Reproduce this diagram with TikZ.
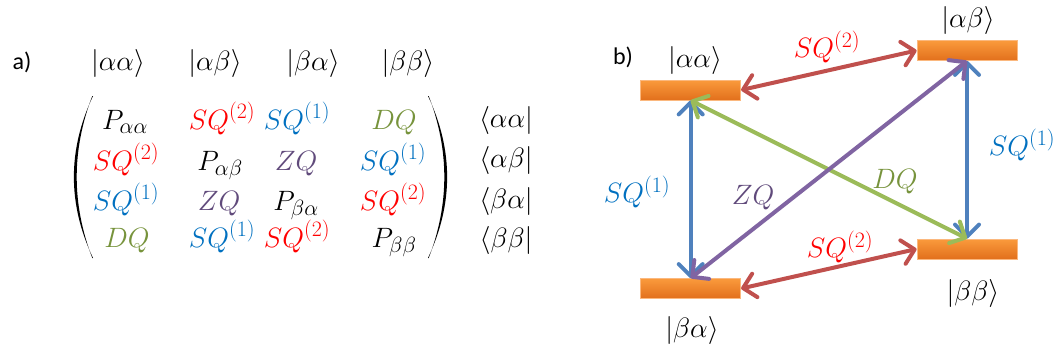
\RequirePackage{fix-cm}
\documentclass[tikz,border=0pt]{standalone}
\usepackage{amsmath}
\usepackage{fontspec}
\setmainfont{Carlito}
\DeclareMathSizes{28}{28}{22}{16}
\usetikzlibrary{arrows.meta}
\definecolor{tred}{HTML}{FF0000}
\definecolor{tblue}{HTML}{0070C0}
\definecolor{tgreen}{HTML}{77933C}
\definecolor{tpurple}{HTML}{604A7B}
\definecolor{ared}{HTML}{C0504D}
\definecolor{ablue}{HTML}{4F81BD}
\definecolor{agreen}{HTML}{9BBB59}
\definecolor{apurple}{HTML}{8064A2}
\definecolor{otop}{HTML}{FA9A3C}
\definecolor{obot}{HTML}{E2701C}
\definecolor{oedge}{HTML}{FBB87E}
\begin{document}
\begin{tikzpicture}[x=1pt,y=-1pt,
  every node/.style={font=\fontsize{28}{33}\selectfont, inner sep=0pt},
  ent/.style={anchor=base},
  level/.style={minimum width=100pt, minimum height=20pt, draw=oedge, line width=0.8pt, top color=otop, bottom color=obot},
  conn/.style={line width=4pt, {Straight Barb[length=12pt,width=24pt,round]}-{Straight Barb[length=12pt,width=24pt,round]}},
  paren/.style={fill=black}]
\useasboundingbox (0,0) rectangle (1062,354);
% ---------- part a) ----------
\node[font=\fontsize{24}{28}\selectfont] (la) at (22,62) {a)};
\node[ent] (h1) at (118,70) {$\lvert\alpha\alpha\rangle$};
\node[ent] (h2) at (215,70) {$\lvert\alpha\beta\rangle$};
\node[ent] (h3) at (313,70) {$\lvert\beta\alpha\rangle$};
\node[ent] (h4) at (408,70) {$\lvert\beta\beta\rangle$};
% parentheses
\fill[paren] (93,96) .. controls (67.5,150) and (67.5,204) .. (93,258) -- (92.3,258) .. controls (71.5,204) and (71.5,150) .. (92.3,96) -- cycle;
\fill[paren] (428,96) .. controls (453.5,150) and (453.5,204) .. (428,258) -- (428.7,258) .. controls (449.5,204) and (449.5,150) .. (428.7,96) -- cycle;
% row 1
\node[ent] (m11) at (125,129) {$P_{\alpha\alpha}$};
\node[ent,text=tred] (m12) at (222,129) {$SQ^{(2)}$};
\node[ent,text=tblue] (m13) at (297,129) {$SQ^{(1)}$};
\node[ent,text=tgreen] (m14) at (394,129) {$DQ$};
% row 2
\node[ent,text=tred] (m21) at (126,170) {$SQ^{(2)}$};
\node[ent] (m22) at (220,170) {$P_{\alpha\beta}$};
\node[ent,text=tpurple] (m23) at (296,170) {$ZQ$};
\node[ent,text=tblue] (m24) at (393,170) {$SQ^{(1)}$};
% row 3
\node[ent,text=tblue] (m31) at (126,210) {$SQ^{(1)}$};
\node[ent,text=tpurple] (m32) at (219,210) {$ZQ$};
\node[ent] (m33) at (296,210) {$P_{\beta\alpha}$};
\node[ent,text=tred] (m34) at (393,210) {$SQ^{(2)}$};
% row 4
\node[ent,text=tgreen] (m41) at (127,247) {$DQ$};
\node[ent,text=tblue] (m42) at (222,247) {$SQ^{(1)}$};
\node[ent,text=tred] (m43) at (297,247) {$SQ^{(2)}$};
\node[ent] (m44) at (394,247) {$P_{\beta\beta}$};
% bras
\node[ent] (b1) at (506,127) {$\langle\alpha\alpha\rvert$};
\node[ent] (b2) at (506,167) {$\langle\alpha\beta\rvert$};
\node[ent] (b3) at (506,208) {$\langle\beta\alpha\rvert$};
\node[ent] (b4) at (506,247) {$\langle\beta\beta\rvert$};
% ---------- part b) ----------
\node[font=\fontsize{24}{28}\selectfont] (lb) at (623,57) {b)};
\node[level] (aa) at (690.7,90) {};
\node[level] (ab) at (967,50.5) {};
\node[level] (bb) at (967,249) {};
\node[level] (ba) at (690.7,288.5) {};
\node (taa) at (695,60) {$\lvert\alpha\alpha\rangle$};
\node (tab) at (968,20) {$\lvert\alpha\beta\rangle$};
\node (tbb) at (973,293) {$\lvert\beta\beta\rangle$};
\node (tba) at (692,330) {$\lvert\beta\alpha\rangle$};
% connectors
\draw[conn,ared] (aa.east) -- (ab.west);
\draw[conn,ared] (ba.east) -- (bb.west);
\draw[conn,ablue] (aa.south) -- (ba.north);
\draw[conn,ablue] (ab.south) -- (bb.north);
\draw[conn,agreen] (aa.south) -- (bb.north);
\draw[conn,apurple] (ba.north) -- (ab.south);
% connector labels
\node[text=tred] (q1) at (827,47) {$SQ^{(2)}$};
\node[text=tred] (q2) at (840,247) {$SQ^{(2)}$};
\node[text=tblue] (q3) at (637,192) {$SQ^{(1)}$};
\node[text=tblue] (q4) at (1022,145) {$SQ^{(1)}$};
\node[text=tpurple] (q5) at (753,198) {$ZQ$};
\node[text=tgreen] (q6) at (895,182) {$DQ$};
\end{tikzpicture}
\end{document}
